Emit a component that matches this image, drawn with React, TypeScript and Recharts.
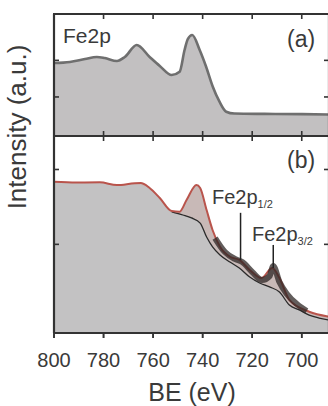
import React from 'react';
import { ComposedChart, Area, Line, XAxis, YAxis, ReferenceLine } from 'recharts';

// Binding-energy ticks shared by both panels
const beTicks = [800, 780, 760, 740, 720, 700];
const beDomain: [number, number] = [689, 800];

// Panel (a): Fe2p spectrum
const surveyBE = [800, 793.6, 787.5, 782.7, 779.5, 774.6, 771.4, 766.6, 761.4, 757.3, 752.5, 749.3, 747.3, 746.0, 744.2, 741.2, 738.6, 735.9, 733.2, 730.5, 727.2, 715, 700, 689];
const surveyIntensity = [0.598, 0.607, 0.631, 0.648, 0.639, 0.615, 0.648, 0.746, 0.648, 0.574, 0.5, 0.527, 0.705, 0.795, 0.828, 0.705, 0.568, 0.404, 0.281, 0.199, 0.184, 0.181, 0.179, 0.176];
const surveyTicks = [0.32, 0.62];

// Panel (b): fitted envelope, background and measured band
const envBE = [800, 791, 781.5, 774.6, 767.4, 765, 761.4, 757.3, 752.5, 749.3, 746.5, 742.5, 741, 738.4, 736, 733, 729, 725.2, 721, 716.3, 711.9, 709, 705, 697, 689];
const envIntensity = [0.768, 0.764, 0.765, 0.751, 0.76, 0.761, 0.736, 0.685, 0.619, 0.616, 0.675, 0.751, 0.736, 0.624, 0.523, 0.438, 0.387, 0.371, 0.32, 0.279, 0.33, 0.279, 0.168, 0.108, 0.083];

const bgBE = [800, 781.5, 774.6, 767.4, 761.4, 757.3, 752.5, 748, 744.5, 741, 738.4, 736, 733, 729, 725.2, 721, 717, 713, 709, 705, 701, 697, 693, 689];
const bgIntensity = [0.762, 0.76, 0.746, 0.755, 0.731, 0.68, 0.615, 0.599, 0.584, 0.558, 0.487, 0.437, 0.396, 0.36, 0.33, 0.284, 0.254, 0.234, 0.208, 0.142, 0.117, 0.091, 0.076, 0.066];
const bgLineStart = 752.5;

const bandBE = [735, 731, 727, 724, 720, 716, 713, 711.5, 709, 706, 702, 698];
const bandIntensity = [0.482, 0.411, 0.376, 0.36, 0.31, 0.269, 0.289, 0.34, 0.259, 0.198, 0.147, 0.112];

const detailTicks = [0.45, 0.83];

const surveyData = surveyBE.map((be, i) => ({ be, v: surveyIntensity[i] }));
const envData = envBE.map((be, i) => ({ be, v: envIntensity[i] }));
const bgData = bgBE.map((be, i) => ({ be, v: bgIntensity[i] }));
const bgLineData = bgData.filter((d) => d.be <= bgLineStart);
const bandData = bandBE.map((be, i) => ({ be, v: bandIntensity[i] }));

const frame = '#333';
const textColor = '#3a3a3a';
const font = '"Liberation Sans", Arial, sans-serif';
const TICK = 5;
const PLOT_H_A = 122;
const PLOT_H_B = 197;

// Tick marks drawn at the axis line, pointing into the plot (dx, dy give the direction)
const inwardTick = (dx: number, dy: number) => (props: any) => {
  const { x, y } = props;
  return <line x1={x} y1={y} x2={x + dx * TICK} y2={y + dy * TICK} stroke={frame} strokeWidth={1.6} />;
};

// Bottom tick: outward mark plus the energy label
const energyLabel = (props: any) => {
  const { x, y, payload } = props;
  return (
    <g>
      <line x1={x} y1={y} x2={x} y2={y + TICK} stroke={frame} strokeWidth={1.6} />
      <text x={x} y={y + 34} textAnchor="middle" fontSize={20} fill={textColor} fontFamily={font}>
        {payload.value}
      </text>
    </g>
  );
};

const axisStyle = { stroke: frame, strokeWidth: 2.2, axisLine: true, tickLine: false, tickSize: 0, tickMargin: 0 };

// Frame axes (top, left, right) for one panel; the top/right pair carries the outline series
function frameAxes(yTicks: number[]) {
  return [
    <XAxis key="xt" xAxisId="t" orientation="top" dataKey="be" type="number" domain={beDomain} reversed ticks={beTicks} height={1} tick={false} {...axisStyle} />,
    <YAxis key="yl" yAxisId="l" type="number" domain={[0, 1]} ticks={yTicks} width={1} tick={inwardTick(1, 0)} {...axisStyle} />,
    <YAxis key="yr" yAxisId="r" orientation="right" type="number" domain={[0, 1]} ticks={yTicks} width={1} tick={inwardTick(-1, 0)} {...axisStyle} />,
  ];
}

// Top border plus the energy tick marks along the top and bottom edges of a panel
function energyTicks(plotHeight: number, bottomOutward: boolean) {
  const len = TICK / plotHeight;
  const items = [
    <ReferenceLine key="top" xAxisId="b" yAxisId="l" y={1} stroke={frame} strokeWidth={2.2} ifOverflow="visible" />,
  ];
  beTicks.forEach((be) => {
    items.push(
      <ReferenceLine key={`t${be}`} xAxisId="b" yAxisId="l" segment={[{ x: be, y: 1 }, { x: be, y: 1 - len }]} stroke={frame} strokeWidth={1.6} ifOverflow="visible" />,
    );
    items.push(
      <ReferenceLine
        key={`b${be}`}
        xAxisId="b"
        yAxisId="l"
        segment={[{ x: be, y: 0 }, { x: be, y: bottomOutward ? -len : len }]}
        stroke={frame}
        strokeWidth={1.6}
        ifOverflow="visible"
      />,
    );
  });
  return items;
}

export default function App() {
  return (
    <div
      style={{
        position: 'absolute',
        left: 0,
        top: 0,
        width: 328,
        height: 406,
        overflow: 'hidden',
        background: '#fff',
        fontFamily: font,
        color: textColor,
      }}
    >
      {/* Panel (a) */}
      <div style={{ position: 'absolute', left: 0, top: 0 }}>
        <ComposedChart width={340} height={137} data={surveyData} margin={{ top: 13, right: 10, bottom: 0, left: 53 }}>
          <Area xAxisId="b" yAxisId="l" dataKey="v" type="monotone" stroke="none" fill="#c2c0c1" fillOpacity={1} isAnimationActive={false} />
          <Line xAxisId="t" yAxisId="r" dataKey="v" type="monotone" stroke="#6f6f6f" strokeWidth={2.6} dot={false} isAnimationActive={false} />
          <XAxis xAxisId="b" dataKey="be" type="number" domain={beDomain} reversed ticks={beTicks} height={1} tick={false} {...axisStyle} />
          {frameAxes(surveyTicks)}
          {energyTicks(PLOT_H_A, false)}
        </ComposedChart>
      </div>
      {/* Top border of the upper panel */}
      <div style={{ position: 'absolute', left: 53, top: 13, width: 290, height: 0, borderTop: `2px solid ${frame}` }} />

      {/* Panel (b) */}
      <div style={{ position: 'absolute', left: 0, top: 130 }}>
        <ComposedChart width={340} height={276} data={envData} margin={{ top: 5, right: 10, bottom: 0, left: 53 }}>
          <Area xAxisId="b" yAxisId="l" data={envData} dataKey="v" type="monotone" stroke="none" fill="#c8b9b7" fillOpacity={1} isAnimationActive={false} />
          <Area xAxisId="b" yAxisId="l" data={bgData} dataKey="v" type="monotone" stroke="none" fill="#c3c2c3" fillOpacity={1} isAnimationActive={false} />
          <Line xAxisId="t" yAxisId="r" data={bgLineData} dataKey="v" type="monotone" stroke="#2a2a2a" strokeWidth={1.3} dot={false} isAnimationActive={false} />
          <Line xAxisId="t" yAxisId="r" data={envData} dataKey="v" type="monotone" stroke="#b9544c" strokeWidth={2} dot={false} isAnimationActive={false} />
          <Line xAxisId="t" yAxisId="r" data={bandData} dataKey="v" type="monotone" stroke="#2e2726" strokeOpacity={0.75} strokeWidth={6} dot={false} isAnimationActive={false} />
          <ReferenceLine xAxisId="b" yAxisId="l" segment={[{ x: 724.7, y: 0.61 }, { x: 724.7, y: 0.37 }]} stroke="#222" strokeWidth={1.5} />
          <ReferenceLine xAxisId="b" yAxisId="l" segment={[{ x: 711.5, y: 0.447 }, { x: 711.5, y: 0.33 }]} stroke="#222" strokeWidth={1.5} />
          <XAxis xAxisId="b" dataKey="be" type="number" domain={beDomain} reversed ticks={beTicks} height={73} tick={energyLabel} {...axisStyle} />
          {frameAxes(detailTicks)}
          {energyTicks(PLOT_H_B, true)}
        </ComposedChart>
      </div>

      {/* Text labels */}
      <div style={{ position: 'absolute', left: 63, top: 25, fontSize: 21, lineHeight: 1, whiteSpace: 'nowrap' }}>Fe2p</div>
      <div style={{ position: 'absolute', left: 287, top: 28, fontSize: 23, lineHeight: 1, whiteSpace: 'nowrap' }}>(a)</div>
      <div style={{ position: 'absolute', left: 287, top: 149, fontSize: 23, lineHeight: 1, whiteSpace: 'nowrap' }}>(b)</div>
      <div style={{ position: 'absolute', left: 212, top: 187, fontSize: 20, lineHeight: 1, whiteSpace: 'nowrap' }}>
        Fe2p<span style={{ fontSize: 11, position: 'relative', top: 4 }}>1/2</span>
      </div>
      <div style={{ position: 'absolute', left: 252, top: 224, fontSize: 20, lineHeight: 1, whiteSpace: 'nowrap' }}>
        Fe2p<span style={{ fontSize: 11, position: 'relative', top: 4 }}>3/2</span>
      </div>
      <div
        style={{
          position: 'absolute',
          left: 17,
          top: 127,
          fontSize: 26,
          lineHeight: 1,
          whiteSpace: 'nowrap',
          transform: 'translate(-50%, -50%) rotate(-90deg)',
        }}
      >
        Intensity (a.u.)
      </div>
      <div style={{ position: 'absolute', left: 192, top: 380, fontSize: 25, lineHeight: 1, whiteSpace: 'nowrap', transform: 'translateX(-50%)' }}>
        BE (eV)
      </div>
    </div>
  );
}
